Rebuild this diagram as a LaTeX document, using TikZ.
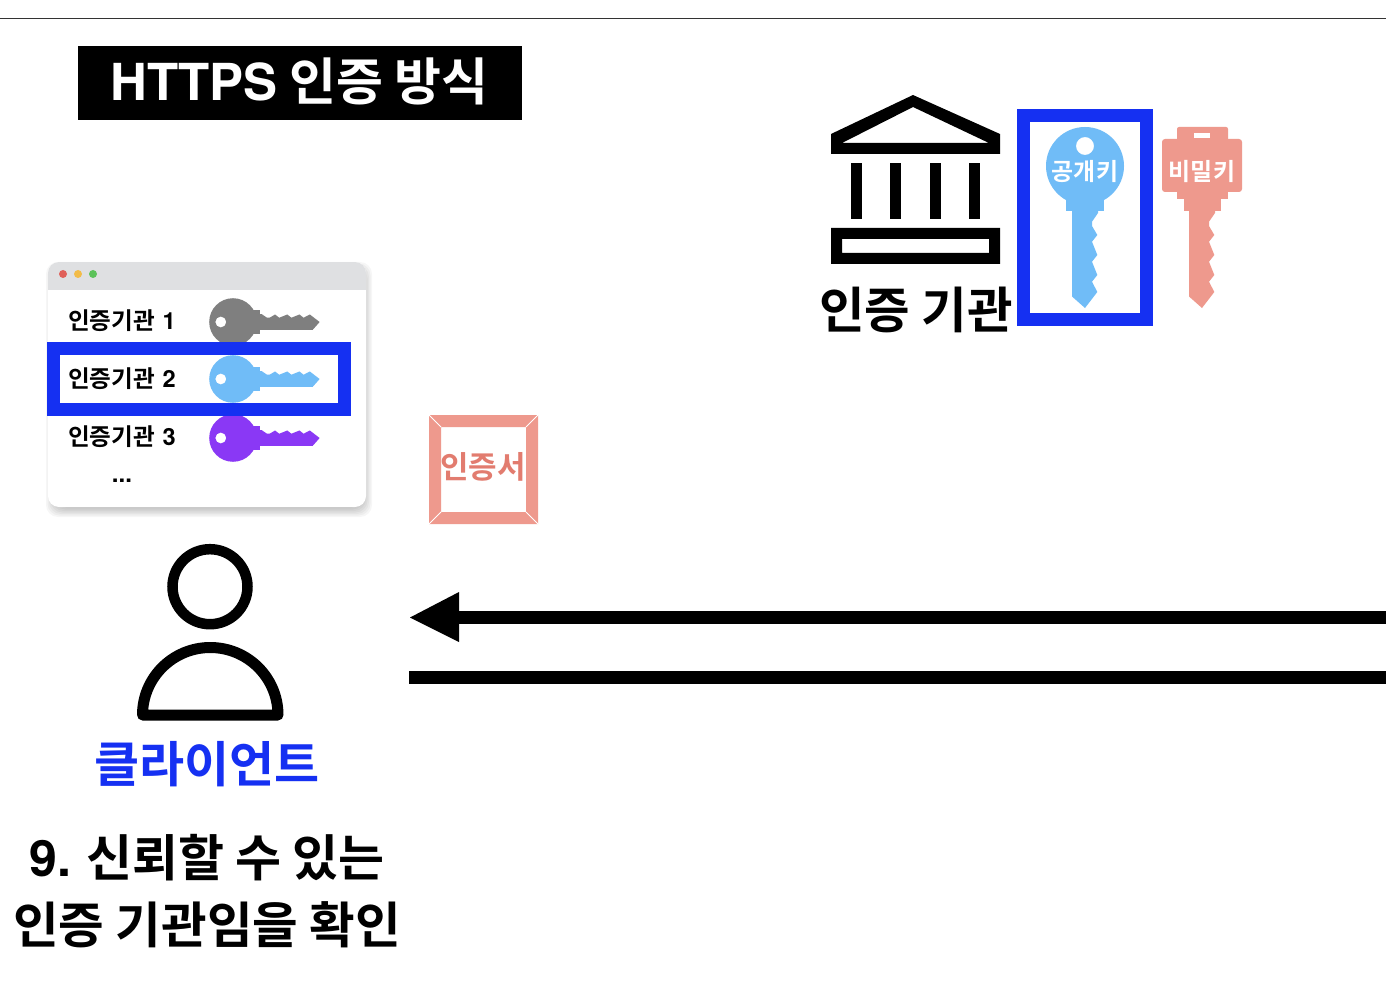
\documentclass[tikz,border=0pt]{standalone}
\usepackage{fontspec}
\setmainfont{Noto Sans CJK KR}[BoldFont={Noto Sans CJK KR Bold}]
\newfontfamily\lat{TeX Gyre Heros}[BoldFont={TeX Gyre Heros Bold}]
\definecolor{bluebox}{HTML}{1530F2}
\definecolor{skykey}{HTML}{70BCF7}
\definecolor{greykey}{HTML}{7F7F7F}
\definecolor{purplekey}{HTML}{8A38F5}
\definecolor{salmon}{HTML}{EE998D}
\definecolor{salmontext}{HTML}{E27C6F}
\definecolor{titlebar}{HTML}{DFE0E2}
\newcommand{\shaftpath}{
  (-13,44) -- (-13,130.5) -- (0,142) -- (12.3,126) -- (7,115.7) -- (12.3,109) -- (7,95.7) -- (12.3,89) -- (7,75.7) -- (12.3,69) -- (7,60) -- (7,55.7) -- (13,47) -- (13,44) -- cycle}
\newcommand{\pubkey}[4]{%
  \begin{scope}[shift={(#1,#2)},scale=#3,rotate=#4]
    \fill[keycol,even odd rule] (0,0) circle[radius=39] (0,-20) circle[radius=9];
    \fill[keycol] (-19,30) rectangle (19,45);
    \fill[keycol] \shaftpath;
  \end{scope}}
\tikzset{
  x=1pt,y=-1pt,
  label kr/.style={inner sep=0pt,font=\bfseries,text=black},
  list label/.style={label kr,font=\bfseries\fontsize{23.6}{24}\selectfont,anchor=west},
  thick arrow/.style={line width=13pt},
}
\begin{document}
\begin{tikzpicture}
\useasboundingbox (0,0) rectangle (1386,992);
\fill[white] (0,0) rectangle (1386,992);
% top rule
\coordinate (ruleL) at (0,18.5); \coordinate (ruleR) at (1386,18.5);
\draw[line width=1.8pt,black!80] (ruleL) -- (ruleR);
% title
\fill[black] (78,46) rectangle (522,120);
\node[label kr,text=white,font=\bfseries\fontsize{51}{51}\selectfont] (title) at (299.5,81) {{\lat HTTPS} 인증 방식};
% window shadow
\foreach \g in {0,1.5,...,10.5}
  \fill[black,opacity=.035,rounded corners=12pt] (48+\g-2,262+\g) rectangle (366+6-\g,507+10-\g);
\fill[white,rounded corners=11pt] (48,262) rectangle (366,507);
\begin{scope}
  \clip[rounded corners=11pt] (48,262) rectangle (366,507);
  \fill[titlebar] (48,262) rectangle (366,290);
\end{scope}
\fill[fill={rgb,255:red,224;green,96;blue,90}] (63,274) circle[radius=4];
\fill[fill={rgb,255:red,242;green,188;blue,72}] (78,274) circle[radius=4];
\fill[fill={rgb,255:red,92;green,194;blue,90}] (93,274) circle[radius=4];
\colorlet{keycol}{greykey}\pubkey{233}{322}{0.61}{90}
\colorlet{keycol}{skykey}\pubkey{233}{379}{0.61}{90}
\colorlet{keycol}{purplekey}\pubkey{233}{438}{0.61}{90}
\node[list label] (ca1) at (68,320.5) {인증기관\hspace{7.5pt}{\lat 1}};
\node[list label] (ca2) at (68,378.5) {인증기관\hspace{7.5pt}{\lat 2}};
\node[list label] (ca3) at (68,436.5) {인증기관\hspace{7.5pt}{\lat 3}};
\node[label kr,font=\bfseries\fontsize{24}{24}\selectfont] (dots) at (122,481) {\lat ...};
\draw[bluebox,line width=13pt] (53.5,348) rectangle (344.5,409.5);
% certificate
\fill[salmon,even odd rule] (429,415) rectangle (538,524) (441,427) rectangle (526,512);
\draw[white,line width=0.8pt] (429,415) -- (441,427) (538,415) -- (526,427) (429,524) -- (441,512) (538,524) -- (526,512);
\node[label kr,text=salmontext,font=\bfseries\fontsize{31}{31}\selectfont] (cert) at (483,467) {인증서};
% building
\fill[black,even odd rule] (831,134) -- (913,95) -- (1000,134) -- (1000,154) -- (831,154) -- cycle
  (842,143) -- (989,143) -- (913,107) -- cycle;
\foreach \cx in {851,890,930,969} \fill[black] (\cx,163) rectangle (\cx+11,219);
\fill[black,even odd rule] (831,228) rectangle (1000,264) (842,239) rectangle (989,253);
\node[label kr,font=\bfseries\fontsize{49.5}{50}\selectfont] (ca) at (916,310) {인증 기관};
% public key
\draw[bluebox,line width=13pt] (1023.5,115.5) rectangle (1146.5,319);
\colorlet{keycol}{skykey}\pubkey{1085}{166}{1}{0}
\node[label kr,text=white,font=\bfseries\fontsize{24}{24}\selectfont] (pub) at (1085,172) {공개키};
% private key
\begin{scope}[shift={(1202,166)}]
  \fill[salmon,rounded corners=3pt] (-40,-27) rectangle (40,26);
  \fill[salmon,rounded corners=2pt] (-25,-39) rectangle (26,-20);
  \fill[white] (-8,-33) rectangle (8,-28);
  \fill[salmon] (-25,20) rectangle (26,33);
  \fill[salmon] (-18,30) rectangle (19,45);
  \fill[salmon] \shaftpath;
\end{scope}
\node[label kr,text=white,font=\bfseries\fontsize{24}{24}\selectfont] (prv) at (1202,172) {비밀키};
% arrows
\coordinate (a1R) at (1386,617.5); \coordinate (a1L) at (455,617.5);
\coordinate (a2R) at (1386,677); \coordinate (a2L) at (409,677);
\draw[thick arrow] (a1R) -- (a1L);
\fill[black] (410,617.5) -- (459,592) -- (459,642) -- cycle;
\draw[thick arrow] (a2R) -- (a2L);
% person
\draw[line width=10.5pt] (210,586.7) circle[radius=37.5];
\draw[line width=11pt,line join=round] (142.5,715) arc[start angle=180,end angle=360,x radius=67.75,y radius=67.5] -- cycle;
\node[label kr,text=bluebox,font=\bfseries\fontsize{49}{49}\selectfont] (client) at (207,764) {클라이언트};
\node[label kr,font=\bfseries\fontsize{50}{50}\selectfont] (s1) at (207,858) {{\lat 9.} 신뢰할 수 있는};
\node[label kr,font=\bfseries\fontsize{49.6}{50}\selectfont] (s2) at (207,925) {인증 기관임을 확인};
\end{tikzpicture}
\end{document}
